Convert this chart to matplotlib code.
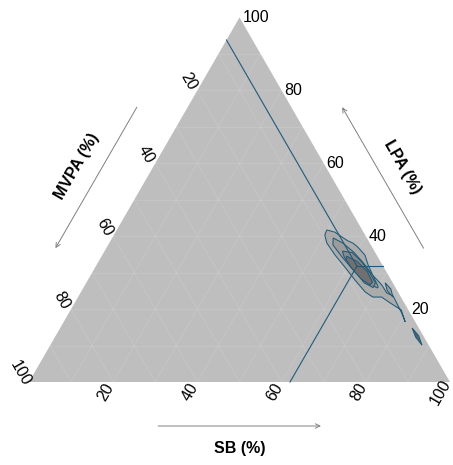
import numpy as np
import matplotlib.pyplot as plt
from matplotlib.patches import Polygon, FancyArrowPatch

plt.rcParams['font.family'] = ['Liberation Sans', 'DejaVu Sans']

# ternary data (percent): SB, LPA (MVPA = 100 - SB - LPA)
ticks = [20, 40, 60, 80, 100]
grid_vals = [10, 20, 30, 40, 50, 60, 70, 80, 90]

mean_sb, mean_lpa = 62.0, 31.8

# density contours, outer -> inner
c1_sb = [49.9, 52.1, 54.4, 56.4, 57.9, 59.6, 62.4, 64.5, 67.0, 70.5, 72.8, 74.7, 79.0, 81.1, 78.5, 74.9,
         72.1, 70.0, 67.5, 63.4, 59.3, 55.3, 51.7, 50.1]
c1_lpa = [41.7, 41.1, 39.8, 38.7, 38.1, 37.0, 34.8, 32.1, 29.3, 26.6, 24.4, 23.6, 19.0, 16.5, 19.8, 21.7,
          23.3, 23.3, 24.7, 28.0, 31.5, 34.8, 38.1, 40.3]
c2_sb = [52.5, 55.5, 59.2, 62.8, 67.0, 69.9, 69.8, 66.9, 62.3, 57.2, 53.4]
c2_lpa = [39.5, 38.1, 35.7, 32.9, 29.3, 26.1, 25.8, 27.2, 30.2, 34.3, 37.6]
c3_sb = [56.5, 59.0, 62.6, 66.0, 68.7, 68.8, 66.0, 61.2, 57.8]
c3_lpa = [35.9, 35.5, 32.9, 29.9, 27.2, 25.9, 27.2, 31.3, 34.2]
c4_sb = [58.2, 61.4, 65.2, 67.9, 67.7, 64.7, 60.7, 58.5]
c4_lpa = [34.5, 33.1, 30.3, 27.4, 26.6, 28.3, 31.5, 33.6]
b1_sb = [71.0, 73.2, 74.8, 72.6]
b1_lpa = [27.2, 25.5, 23.3, 25.0]
b2_sb = [83.6, 86.2, 88.3, 85.7]
b2_lpa = [14.8, 12.7, 10.1, 12.3]

contours = [(c1_sb, c1_lpa, '#ABABAB'), (c2_sb, c2_lpa, '#9C9C9C'),
            (c3_sb, c3_lpa, '#8A8A8A'), (c4_sb, c4_lpa, '#707070'),
            (b1_sb, b1_lpa, '#9C9C9C'), (b2_sb, b2_lpa, '#4F6472')]

H = np.sqrt(3) / 2
PX = 1 / 421
line_col = '#215A78'


def cart(sb, lpa):
    sb = np.asarray(sb, float) / 100
    lpa = np.asarray(lpa, float) / 100
    return sb + 0.5 * lpa, lpa * H


fig = plt.figure(figsize=(4.53, 4.65), dpi=100)
ax = fig.add_axes([0, 0, 1, 1])
ax.set_xlim(-29 * PX, 424 * PX)
ax.set_ylim(-83 * PX, 382 * PX)
ax.axis('off')

# panel
ax.add_patch(Polygon([(0, 0), (1, 0), (0.5, H)], closed=True, fc='#BEBEBE', ec='none', zorder=0))

# grid
for v in grid_vals:
    w = 100 - v
    for (a, b) in [((v, 0), (v, w)), ((0, v), (w, v)), ((w, 0), (0, w))]:
        x, y = cart([a[0], b[0]], [a[1], b[1]])
        ax.plot(x, y, color='white', lw=0.5, alpha=0.15, zorder=1)

# contours
for sb, lpa, fc in contours:
    x, y = cart(sb, lpa)
    ax.add_patch(Polygon(np.column_stack([x, y]), closed=True, fc=fc, ec=line_col, lw=0.75, zorder=2))

# lines from the mean composition to the edges
mean_mvpa = 100 - mean_sb - mean_lpa
for sb_end, lpa_end in [(mean_sb, 0), (100 - mean_lpa, mean_lpa), (0, 100 - mean_mvpa)]:
    x, y = cart([mean_sb, sb_end], [mean_lpa, lpa_end])
    ax.plot(x, y, color=line_col, lw=0.8, zorder=3)

# tick labels
fs = 11.5
for t in ticks:
    x, y = cart(t, 0)
    dx = -9 if t == 100 else -7
    ax.text(x + dx * PX, y - 10 * PX, str(t), rotation=60, ha='center', va='center', fontsize=fs)
    x, y = cart(100 - t, t)
    ax.text(x + 3 * PX, y, str(t), ha='left', va='center', fontsize=fs)
    x, y = cart(0, 100 - t)
    ax.text(x - 9 * PX, y + 9 * PX, str(t), rotation=-60, ha='center', va='center', fontsize=fs)


# axis arrows and titles
def edge_pt(p0, p1, f, off):
    p0, p1 = np.array(p0), np.array(p1)
    d = p1 - p0
    n = np.array([d[1], -d[0]]) / np.hypot(*d)
    return p0 + f * d + off * PX * n


edges = [((0, 0), (1, 0), 'SB (%)', 0),
         ((1, 0), (0.5, H), 'LPA (%)', -60),
         ((0.5, H), (0, 0), 'MVPA (%)', 60)]
for p0, p1, title, rot in edges:
    a = edge_pt(p0, p1, 0.3, 44)
    b = edge_pt(p0, p1, 0.7, 44)
    ax.add_patch(FancyArrowPatch(a, b, arrowstyle='->', mutation_scale=8, color='#808080', lw=0.7))
    c = edge_pt(p0, p1, 0.5, 66)
    ax.text(c[0], c[1], title, rotation=rot, ha='center', va='center', fontsize=11.5, fontweight='bold')

fig.savefig('out.png', dpi=100)
